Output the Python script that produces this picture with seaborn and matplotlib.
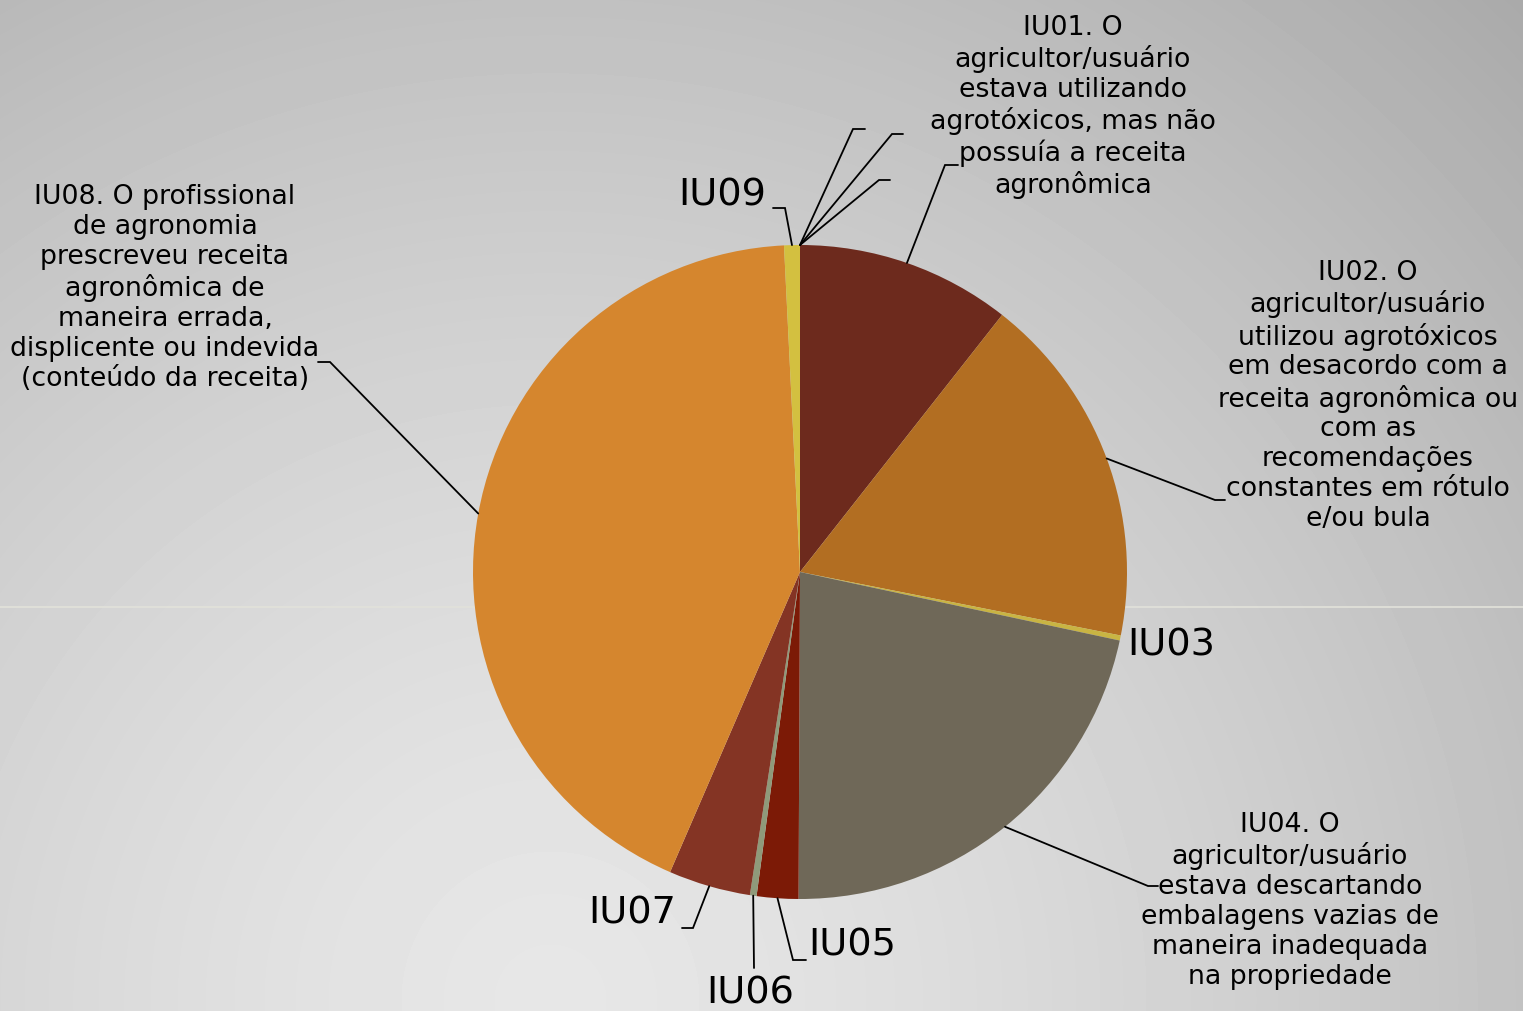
import numpy as np
import seaborn as sns
import matplotlib.pyplot as plt

# valores (percentual de cada infração)
codes = ["IU01", "IU02", "IU03", "IU04", "IU05", "IU06", "IU07", "IU08", "IU09", "IU10", "IU11", "IU12"]
values = [10.6, 17.5, 0.25, 21.7, 2.05, 0.33, 4.05, 42.7, 0.78, 0, 0, 0]
labels = [
    "IU01. O\nagricultor/usuário\nestava utilizando\nagrotóxicos, mas não\npossuía a receita\nagronômica",
    "IU02. O\nagricultor/usuário\nutilizou agrotóxicos\nem desacordo com a\nreceita agronômica ou\ncom as\nrecomendações\nconstantes em rótulo\ne/ou bula",
    "IU03",
    "IU04. O\nagricultor/usuário\nestava descartando\nembalagens vazias de\nmaneira inadequada\nna propriedade",
    "IU05",
    "IU06",
    "IU07",
    "IU08. O profissional\nde agronomia\nprescreveu receita\nagronômica de\nmaneira errada,\ndisplicente ou indevida\n(conteúdo da receita)",
    "IU09",
    "", "", "",
]
colors = ["#6d2a1d", "#b26e22", "#c9b443", "#6f6858", "#7c1a06", "#8f9a7a",
          "#843424", "#d5862e", "#d3c040", "#999999", "#999999", "#999999"]

W, H = 1523, 1011
CX, CY, R = 800, 572, 327

# posição do texto (px), alinhamento, tamanho, cotovelo e fim da linha guia (px)
layout = {
    "IU01": ((1073, 107), "center", 19.3, (945, 165), (958, 165)),
    "IU02": ((1368, 396), "center", 19.3, (1215, 500), (1225, 500)),
    "IU03": ((1127, 646), "left", 27.5, None, None),
    "IU04": ((1290, 901), "center", 19.3, (1148, 886), (1158, 886)),
    "IU05": ((808, 946), "left", 27.5, (793, 960), (806, 960)),
    "IU06": ((750, 993), "center", 27.5, (754, 968), (754, 968)),
    "IU07": ((676, 914), "right", 27.5, (693, 928), (682, 928)),
    "IU08": ((165, 288), "center", 19.3, (330, 362), (318, 362)),
    "IU09": ((766, 195), "right", 27.5, (785, 208), (773, 208)),
    "IU10": (None, None, None, (853, 129), (865, 129)),
    "IU11": (None, None, None, (892, 134), (903, 134)),
    "IU12": (None, None, None, (879, 180), (890, 180)),
}


def px(x, y):
    return (x - CX) / R, (CY - y) / R


sns.set_theme(style="white")
plt.rcParams["font.family"] = ["DejaVu Sans"]

fig = plt.figure(figsize=(W / 100, H / 100), dpi=100)

# fundo em degradê
bg = fig.add_axes([0, 0, 1, 1])
yy, xx = np.mgrid[0:H, 0:W]
d = np.hypot(xx - 550, yy - 1000) / 1395
shade = 0.905 - 0.24 * d ** 1.4
bg.imshow(shade, cmap="gray", vmin=0, vmax=1, extent=(0, W, H, 0), aspect="auto")
bg.axhline(607, color="#e2e2da", lw=1.2)
bg.set_xlim(0, W)
bg.set_ylim(H, 0)
bg.axis("off")

ax = fig.add_axes([(CX - R) / W, (H - CY - R) / H, 2 * R / W, 2 * R / H])
wedges, _ = ax.pie(values, colors=colors, startangle=90, counterclock=False,
                   radius=1, wedgeprops=dict(linewidth=0))
ax.set_xlim(-1, 1)
ax.set_ylim(-1, 1)
ax.set_aspect("equal")
ax.axis("off")

for code, text, w in zip(codes, labels, wedges):
    pos, ha, size, elbow, end = layout[code]
    mid = np.deg2rad((w.theta1 + w.theta2) / 2)
    start = (np.cos(mid), np.sin(mid))
    if elbow is not None:
        ex, ey = px(*elbow)
        fx, fy = px(*end)
        ax.plot([start[0], ex, fx], [start[1], ey, fy], color="black", lw=1.3,
                clip_on=False, solid_joinstyle="miter")
    if pos is not None and text:
        tx, ty = px(*pos)
        ax.text(tx, ty, text, ha=ha, va="center", fontsize=size, color="black",
                multialignment="center", linespacing=1.19, clip_on=False)

fig.savefig("out.png", dpi=100)
